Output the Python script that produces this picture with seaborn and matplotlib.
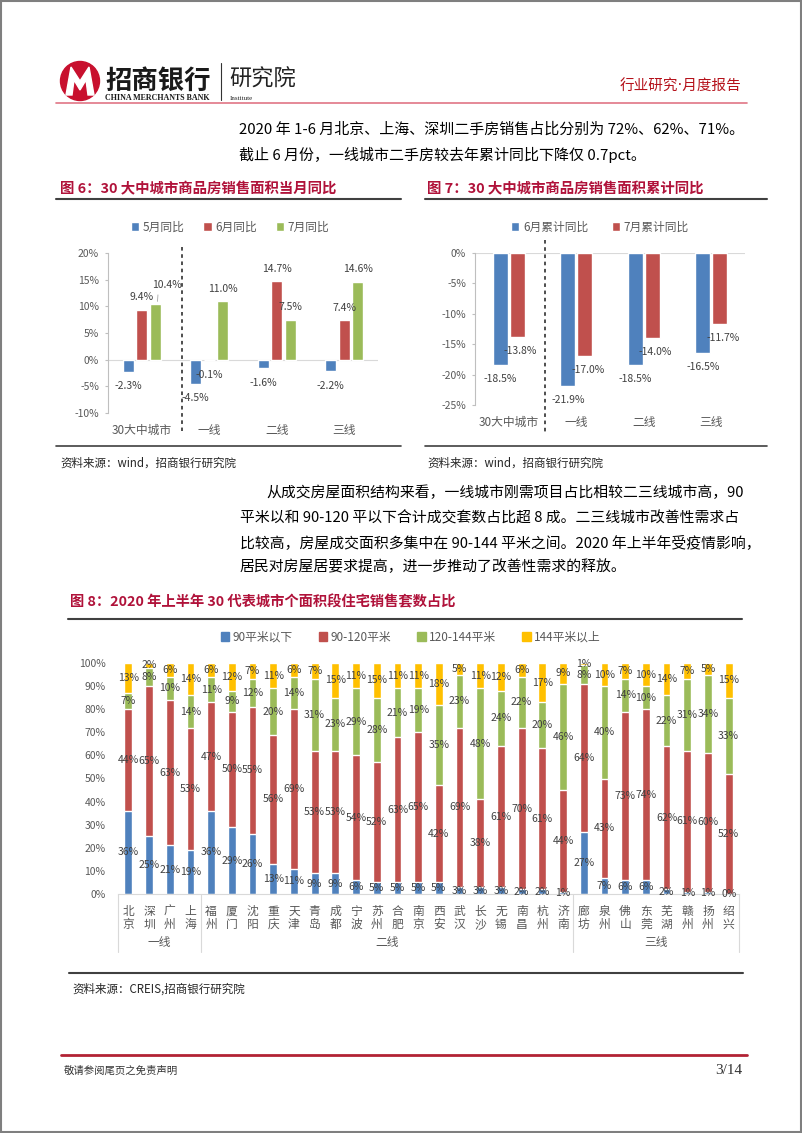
import numpy as np
import pandas as pd
import matplotlib
matplotlib.use('Agg')
import matplotlib.pyplot as plt
import seaborn as sns
from matplotlib.patches import Circle, Polygon, Rectangle, Patch

# ---- data: chart 6 (monthly yoy) ----
groups = ['30大中城市', '一线', '二线', '三线']
yoy_names = ['5月同比', '6月同比', '7月同比']
may_yoy = [-2.3, -4.5, -1.6, -2.2]
jun_yoy = [9.4, -0.1, 14.7, 7.4]
jul_yoy = [10.4, 11.0, 7.5, 14.6]

# ---- data: chart 7 (cumulative yoy) ----
cum_names = ['6月累计同比', '7月累计同比']
jun_cum = [-18.5, -21.9, -18.5, -16.5]
jul_cum = [-13.8, -17.0, -14.0, -11.7]

# ---- data: chart 8 (share of units sold by floor area) ----
cities = ['北京', '深圳', '广州', '上海',
          '福州', '厦门', '沈阳', '重庆', '天津', '青岛', '成都', '宁波', '苏州',
          '合肥', '南京', '西安', '武汉', '长沙', '无锡', '南昌', '杭州', '济南',
          '廊坊', '泉州', '佛山', '东莞', '芜湖', '赣州', '扬州', '绍兴']
tier_names = ['一线', '二线', '三线']
tier_sizes = [4, 18, 8]
area_bins = ['90平米以下', '90-120平米', '120-144平米', '144平米以上']
below90 = [36, 25, 21, 19, 36, 29, 26, 13, 11, 9, 9, 6, 5, 5, 5, 5, 3, 3, 3, 2, 2, 1,
           27, 7, 6, 6, 2, 1, 1, 0]
s90_120 = [44, 65, 63, 53, 47, 50, 55, 56, 69, 53, 53, 54, 52, 63, 65, 42, 69, 38, 61, 70, 61, 44,
           64, 43, 73, 74, 62, 61, 60, 52]
s120_144 = [7, 8, 10, 14, 11, 9, 12, 20, 14, 31, 23, 29, 28, 21, 19, 35, 23, 48, 24, 22, 20, 46,
            8, 40, 14, 10, 22, 31, 34, 33]
above144 = [13, 2, 6, 14, 6, 12, 7, 11, 6, 7, 15, 11, 15, 11, 11, 18, 5, 11, 12, 6, 17, 9,
            1, 10, 7, 10, 14, 7, 5, 15]

BLUE, RED, GREEN, YELLOW = '#4F81BD', '#C0504D', '#9BBB59', '#FFC000'
TITLE_RED = '#B0123A'
TICK = '#595959'
LABEL = '#404040'

sns.set_theme(style='white')
plt.rcParams['font.family'] = ['Noto Sans CJK SC', 'DejaVu Sans']
plt.rcParams['axes.unicode_minus'] = False

W, H = 802, 1133
fig = plt.figure(figsize=(W / 100, H / 100), dpi=100)
fig.patch.set_facecolor('white')


def rect(l, t, r, b):
    # page pixel box -> figure fraction
    return [l / W, 1 - b / H, (r - l) / W, (b - t) / H]


# page layer in pixel coords
page = fig.add_axes([0, 0, 1, 1])
page.set_xlim(0, W)
page.set_ylim(H, 0)
page.axis('off')

page.add_patch(Rectangle((0.8, 0.8), W - 1.6, H - 1.6, fill=False, ec='#7f7f7f', lw=1.5))

# header logo
page.add_patch(Circle((80, 81), 19.5, color='#C8102E'))
page.add_patch(Polygon([(66, 95), (71, 67), (80, 81), (89, 67), (94, 95), (88, 95),
                        (86, 80), (80, 90), (74, 80), (72, 95)], closed=True, color='white'))
page.text(105, 81, '招商银行', fontsize=19, fontweight='heavy', va='center', ha='left', color='#1a1a1a')
page.text(105, 97.5, 'CHINA MERCHANTS BANK', fontsize=5.8, family='Liberation Serif',
          fontweight='bold', va='center', ha='left', color='#1a1a1a')
page.plot([221, 221], [63, 100], color='#333333', lw=0.8)
page.text(229, 79, '研究院', fontsize=16, va='center', ha='left', color='#222222')
page.text(230, 98, 'Institute', fontsize=5, family='Liberation Serif', va='center', ha='left', color='#222222')
page.text(741, 86, '行业研究·月度报告', fontsize=10.5, va='center', ha='right', color='#B5121B',
          family=['DejaVu Sans', 'Noto Sans CJK SC'])
page.plot([56, 747], [102.5, 102.5], color='#E07585', lw=1.2)

# intro text
page.text(239, 130, '2020 年 1-6 月北京、上海、深圳二手房销售占比分别为 72%、62%、71%。',
          fontsize=10.8, va='center', ha='left', color='black')
page.text(239, 155, '截止 6 月份，一线城市二手房较去年累计同比下降仅 0.7pct。',
          fontsize=10.8, va='center', ha='left', color='black')

# figure titles 6/7
page.text(60, 189, '图 6：30 大中城市商品房销售面积当月同比', fontsize=10.4, fontweight='bold',
          va='center', ha='left', color=TITLE_RED)
page.text(427, 189, '图 7：30 大中城市商品房销售面积累计同比', fontsize=10.4, fontweight='bold',
          va='center', ha='left', color=TITLE_RED)
page.plot([56, 401], [199, 199], color='#404040', lw=1.5)
page.plot([425, 767], [199, 199], color='#404040', lw=1.5)
page.plot([56, 401], [446, 446], color='#404040', lw=1.2)
page.plot([425, 767], [446, 446], color='#404040', lw=1.2)
page.text(60, 463, '资料来源：wind，招商银行研究院', fontsize=8.3, va='center', ha='left', color='#262626')
page.text(427, 463, '资料来源：wind，招商银行研究院', fontsize=8.3, va='center', ha='left', color='#262626')

# paragraph
para = ['从成交房屋面积结构来看，一线城市刚需项目占比相较二三线城市高，90',
        '平米以和 90-120 平以下合计成交套数占比超 8 成。二三线城市改善性需求占',
        '比较高，房屋成交面积多集中在 90-144 平米之间。2020 年上半年受疫情影响，',
        '居民对房屋居要求提高，进一步推动了改善性需求的释放。']
for k, (line, y) in enumerate(zip(para, [493, 518, 543, 567])):
    page.text(266 if k == 0 else 240, y, line, fontsize=10.7, va='center', ha='left', color='black')

# figure 8 title / source / footer
page.text(70, 602, '图 8：2020 年上半年 30 代表城市个面积段住宅销售套数占比', fontsize=10.3,
          fontweight='bold', va='center', ha='left', color=TITLE_RED)
page.plot([68, 742], [619, 619], color='#404040', lw=1.5)
page.plot([69, 743], [973, 973], color='#404040', lw=1.5)
page.text(72, 989, '资料来源：CREIS,招商银行研究院', fontsize=8.3, va='center', ha='left', color='#262626')
page.plot([61, 747], [1055, 1055], color='#B22234', lw=2)
page.text(64, 1071, '敬请参阅尾页之免责声明', fontsize=7.5, va='center', ha='left', color='#333333')
page.text(742, 1071, '3/14', fontsize=11, family='Liberation Serif', va='center', ha='right', color='#333333')


def style_bar_axes(ax):
    for s in ['top', 'right', 'bottom']:
        ax.spines[s].set_visible(False)
    ax.spines['left'].set_color('#BFBFBF')
    ax.spines['left'].set_linewidth(0.8)
    ax.axhline(0, color='#D9D9D9', lw=0.8, zorder=0)
    ax.tick_params(axis='y', length=2.5, width=0.8, color='#BFBFBF', labelsize=7.5,
                   labelcolor=TICK, pad=4, left=True)
    ax.tick_params(axis='x', length=0, labelsize=8.5, labelcolor=TICK, pad=8)
    ax.set_xlabel('')
    ax.set_ylabel('')
    ax.set_xlim(-0.5, 3.5)
    ax.patch.set_alpha(0)


def rebuild_legend(ax, anchor, spacing):
    leg = ax.get_legend()
    handles = leg.legend_handles
    labels = [t.get_text() for t in leg.get_texts()]
    ax.legend(handles, labels, loc='center', bbox_to_anchor=anchor, ncol=len(labels),
              frameon=False, fontsize=8.5, handlelength=0.7, handleheight=0.7,
              handletextpad=0.3, columnspacing=spacing, labelcolor=TICK)


# ---- chart 6 ----
ax6 = fig.add_axes(rect(108, 253, 378, 413))
df6 = pd.DataFrame({'group': groups * 3,
                    'series': np.repeat(yoy_names, len(groups)),
                    'value': may_yoy + jun_yoy + jul_yoy})
sns.barplot(data=df6, x='group', y='value', hue='series', order=groups, hue_order=yoy_names,
            palette=[BLUE, RED, GREEN], width=0.6, gap=0.18, saturation=1, errorbar=None, ax=ax6)
ax6.set_ylim(-10, 20)
ax6.set_yticks(range(-10, 21, 5))
ax6.set_yticklabels([f'{v}%' for v in range(-10, 21, 5)])
style_bar_axes(ax6)
for j, (cont, vals) in enumerate(zip(ax6.containers, [may_yoy, jun_yoy, jul_yoy])):
    for i, (bar, v) in enumerate(zip(cont, vals)):
        x = bar.get_x() + bar.get_width() / 2
        if (i, j) == (0, 2):
            ax6.annotate(f'{v:.1f}%', xy=(x + 0.03, v), xytext=(10, 19), textcoords='offset pixels',
                         ha='center', va='center', fontsize=7.5, color=LABEL,
                         arrowprops=dict(arrowstyle='-', color='#A6A6A6', lw=0.6,
                                         relpos=(0.2, 0.1), shrinkA=1, shrinkB=2))
        else:
            dy = 12.5 if v > 0 else -14.5
            ax6.annotate(f'{v:.1f}%', xy=(x, v), xytext=(0, dy), textcoords='offset pixels',
                         ha='center', va='center', fontsize=7.5, color=LABEL)
ax6.plot([0.6, 0.6], [1.04, -0.11], transform=ax6.get_xaxis_transform(), clip_on=False,
         color='#404040', lw=1.3, ls=(0, (2, 2)))
rebuild_legend(ax6, (0.452, 1.1625), 1.6)

# ---- chart 7 ----
ax7 = fig.add_axes(rect(475, 253, 745, 405))
df7 = pd.DataFrame({'group': groups * 2,
                    'series': np.repeat(cum_names, len(groups)),
                    'value': jun_cum + jul_cum})
sns.barplot(data=df7, x='group', y='value', hue='series', order=groups, hue_order=cum_names,
            palette=[BLUE, RED], width=0.5, gap=0.12, saturation=1, errorbar=None, ax=ax7)
ax7.set_ylim(-25, 0)
ax7.set_yticks(range(-25, 1, 5))
ax7.set_yticklabels([f'{v}%' for v in range(-25, 1, 5)])
style_bar_axes(ax7)
for j, (cont, vals) in enumerate(zip(ax7.containers, [jun_cum, jul_cum])):
    for bar, v in zip(cont, vals):
        x = bar.get_x() + bar.get_width() / 2
        ax7.annotate(f'{v:.1f}%', xy=(x, v), xytext=(3 * j, -14), textcoords='offset pixels',
                     ha='center', va='center', fontsize=7.5, color=LABEL)
ax7.plot([0.537, 0.537], [1.086, -0.197], transform=ax7.get_xaxis_transform(), clip_on=False,
         color='#404040', lw=1.3, ls=(0, (2, 2)))
rebuild_legend(ax7, ((600 - 475) / 270, (405 - 227) / 152), 2.0)

# ---- chart 8: stacked bars ----
ax8 = fig.add_axes(rect(118, 663, 739, 894))
df8 = pd.DataFrame({'city': cities, 'b1': below90, 'b2': s90_120, 'b3': s120_144, 'b4': above144})
layers = ['b1', 'b2', 'b3', 'b4']
colors8 = [BLUE, RED, GREEN, YELLOW]
cum = df8[layers].cumsum(axis=1)
for k in range(3, -1, -1):
    df8['top'] = cum[layers[k]]
    sns.barplot(data=df8, x='city', y='top', order=cities, color=colors8[k], width=0.38,
                saturation=1, errorbar=None, ax=ax8)
# containers were drawn top layer first
for k, cont in zip(range(3, -1, -1), ax8.containers):
    bottoms = cum[layers[k]] - df8[layers[k]]
    for bar, v, b in zip(cont, df8[layers[k]], bottoms):
        ax8.text(bar.get_x() + bar.get_width() / 2, b + v / 2, f'{v}%', ha='center', va='center',
                 fontsize=7.5, color=LABEL)
ax8.set_ylim(0, 100)
ax8.set_xlim(-0.5, len(cities) - 0.5)
ax8.set_yticks(range(0, 101, 10))
ax8.set_yticklabels([f'{v}%' for v in range(0, 101, 10)])
ax8.set_xticks(range(len(cities)))
ax8.set_xticklabels(['\n'.join(c) for c in cities], linespacing=1.0)
ax8.tick_params(axis='y', length=0, labelsize=7.5, labelcolor=TICK, pad=9)
ax8.tick_params(axis='x', length=0, labelsize=8.5, labelcolor=TICK, pad=8)
ax8.set_xlabel('')
ax8.set_ylabel('')
for s in ['top', 'right', 'left']:
    ax8.spines[s].set_visible(False)
ax8.spines['bottom'].set_color('#D9D9D9')
ax8.spines['bottom'].set_linewidth(0.8)
ax8.patch.set_alpha(0)

# tier grouping under the category axis
edges = np.concatenate([[0], np.cumsum(tier_sizes)]) - 0.5
trans = ax8.get_xaxis_transform()
for e in edges:
    ax8.plot([e, e], [0, -0.251], transform=trans, clip_on=False, color='#D9D9D9', lw=0.8)
for name, a, b in zip(tier_names, edges[:-1], edges[1:]):
    ax8.text((a + b) / 2, -0.208, name, transform=trans, ha='center', va='center',
             fontsize=8.5, color=TICK)

ax8.legend(handles=[Patch(color=c) for c in colors8], labels=area_bins, loc='center',
           bbox_to_anchor=((411 - 118) / 621, (894 - 637) / 231), ncol=4, frameon=False,
           fontsize=8.5, handlelength=0.7, handleheight=0.7, handletextpad=0.3,
           columnspacing=2.2, labelcolor=TICK)

fig.savefig('out.png', dpi=100, facecolor='white')
